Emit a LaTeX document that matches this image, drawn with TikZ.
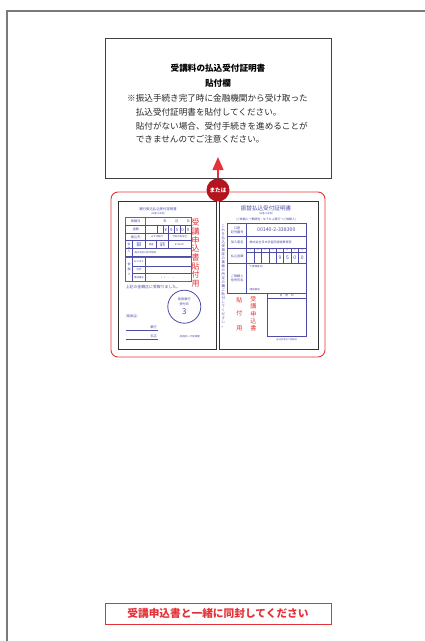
\documentclass[tikz,border=0pt]{standalone}
\usepackage{fontspec}
\setmainfont{Noto Sans CJK JP}
\usetikzlibrary{arrows.meta}

\definecolor{rot}{HTML}{E53238}
\definecolor{dunkelrot}{HTML}{B3141E}
\definecolor{blau}{HTML}{4C4CA6}
\definecolor{grau}{HTML}{7A7A7A}

\tikzset{
  kasten/.style={draw=black!75, line width=0.9pt},
  blatt/.style={draw=black!80, line width=1pt, fill=white},
  linie/.style={blau, line width=0.55pt},
  rotlinie/.style={rot, line width=0.7pt},
  klein/.style={font=\fontsize{3.2}{3.8}\selectfont, text=blau, inner sep=0pt},
  winzig/.style={font=\fontsize{2.4}{2.8}\selectfont, text=blau, inner sep=0pt},
  ziffer/.style={font=\fontsize{5}{5}\selectfont, text=blau, inner sep=0pt},
  hinweis/.style={font=\fontsize{8.6}{10}\selectfont, text=black!85, inner sep=0pt, anchor=west},
  rotsenk/.style={text=rot, align=center, inner sep=0pt},
}

\begin{document}
\begin{tikzpicture}[x=1pt, y=-1pt]
  \useasboundingbox (0,0) rectangle (425,641);

  % Seitenrand
  \draw[grau, line width=1.3pt] (7,641) -- (7,11) -- (425,11);

  % Feld oben
  \node[kasten, minimum width=226pt, minimum height=140pt] (feld) at (218,108) {};
  \node[font=\bfseries\fontsize{8.6}{10}\selectfont, inner sep=0pt] (titel) at (218,68) {受講料の払込受付証明書};
  \node[font=\bfseries\fontsize{8.6}{10}\selectfont, inner sep=0pt] (titel2) at (218,83) {貼付欄};
  \node[hinweis] (zeile1) at (127,98) {※振込手続き完了時に金融機関から受け取った};
  \node[hinweis] (zeile2) at (135.6,112) {払込受付証明書を貼付してください。};
  \node[hinweis] (zeile3) at (135.6,126) {貼付がない場合、受付手続きを進めることが};
  \node[hinweis] (zeile4) at (135.6,139.5) {できませんのでご注意ください。};

  % roter Rahmen mit zwei Belegen
  \draw[rot, line width=0.9pt, rounded corners=7pt] (111,192) rectangle (325,357);
  \node[blatt, minimum width=98pt, minimum height=148pt] (links) at (167,275) {};
  \node[blatt, minimum width=98.5pt, minimum height=148pt] (rechts) at (268.75,275) {};

  % Beleg links
  \node[klein, font=\fontsize{3.4}{4}\selectfont] (ltitel) at (158,209) {銀行振込払込受付証明書};
  \node[winzig] (lsub) at (158,213.5) {(お客さま用)};
  \draw[rotlinie] (125.7,217.3) rectangle (191,225.7);
  \draw[rotlinie] (145.7,217.3) -- (145.7,225.7);
  \draw[linie] (125.7,225.7) rectangle (191,256);
  \foreach \y in {233.3,240.7,248.3}
    \draw[linie] (125.7,\y) -- (191,\y);
  \draw[linie] (145.7,225.7) -- (145.7,248.3);
  \draw[linie] (132.3,240.7) -- (132.3,256);
  \draw[linie] (156.7,240.7) -- (156.7,248.3);
  \draw[linie] (168.3,233.3) -- (168.3,248.3);
  \foreach \x in {157.4,163,168.6,174.2,179.8,185.4}
    \draw[linie] (\x,225.7) -- (\x,233.3);
  \draw[linie] (132.3,257.7) -- (132.3,281.7);
  \draw[linie] (145.7,257.7) -- (145.7,281.7);
  \foreach \y in {266,273.3}
    \draw[linie] (132.3,\y) -- (191,\y);
  \draw[rotlinie] (125.7,257.7) rectangle (191,281.7);

  \node[klein] (idatum) at (135.7,221.5) {依頼日};
  \node[klein] (ijahr) at (165,221.5) {年};
  \node[klein] (imonat) at (176.7,221.5) {月};
  \node[klein] (itag) at (188.3,221.5) {日};
  \node[klein] (ibetrag) at (135.7,229.5) {金額};
  \node[ziffer, font=\fontsize{4.4}{4.4}\selectfont] (iyen) at (165.8,229.5) {¥};
  \foreach \z/\x in {9/171.4,5/177,0/182.6,0/188.2}
    \node[ziffer, font=\fontsize{4.4}{4.4}\selectfont] at (\x,229.5) {\z};
  \node[klein] (iziel) at (135.7,237) {振込先};
  \node[winzig] (ibank) at (157,237) {みずほ銀行};
  \node[winzig] (ifiliale) at (179.7,237) {渋谷中央支店};
  \node[winzig, align=center, font=\fontsize{2.8}{3.6}\selectfont] (iempf) at (129,248.3) {受\\取\\人};
  \node[winzig, align=center] (iart) at (139,244.5) {預金\\種目};
  \node[winzig] (inormal) at (151.2,244.5) {普通};
  \node[winzig, align=center] (ikonto) at (162.5,244.5) {口座\\番号};
  \node[winzig] (inummer) at (179.6,244.5) {8734337};
  \node[winzig, anchor=west] (iname) at (134.5,252.2) {株式会社日本学習院};
  \node[klein, align=center, font=\fontsize{3}{5}\selectfont] (iauftr) at (129,269.7) {依\\頼\\人};
  \node[winzig] (ivorname) at (139,261.8) {おなまえ};
  \node[winzig] (iadresse) at (139,269.7) {住所};
  \node[winzig] (itel) at (139,277.5) {電話番号};
  \node[winzig] (ikl) at (168,277.5) {(\quad)\quad ―\quad ―};
  \node[rotsenk, font=\fontsize{8}{8.66}\selectfont] (lrot) at (195.5,253) {受\\講\\申\\込\\書\\貼\\付\\用};
  \node[klein, anchor=west, font=\fontsize{3.9}{4}\selectfont] (iquittung) at (125.5,286.7) {上記の金額正に受取りました。};
  \node[circle, draw=blau, line width=0.8pt, minimum size=33pt, inner sep=0pt] (stempel) at (184.3,306.7) {};
  \node[klein] (st1) at (184.3,299.3) {取扱銀行};
  \node[klein] (st2) at (184.3,303.8) {受付印};
  \node[klein, font=\fontsize{8}{8}\selectfont] (st3) at (184.3,312) {3};
  \node[klein] (istelle) at (131.7,316.7) {(取扱店)};
  \draw[blau, line width=1pt] (125.7,330.7) -- (158.3,330.7);
  \draw[blau, line width=1pt] (125.7,339.3) -- (158.3,339.3);
  \node[klein] (ibank2) at (153.5,327.5) {銀行};
  \node[klein] (ifil2) at (153.5,336) {支店};
  \node[winzig] (iablage) at (190,336.5) {(取扱店→今後保管)};

  % Beleg rechts
  \node[klein, font=\fontsize{5.6}{6}\selectfont] (rtitel) at (266,208.3) {振替払込受付証明書};
  \node[winzig] (rsub) at (266,213.6) {(お客さま用)};
  \node[winzig, font=\fontsize{2.9}{3}\selectfont] (rweg) at (266,220) {(ご依頼人→郵便局・ゆうちょ銀行→ご依頼人)};
  \node[klein, align=center, font=\fontsize{3.4}{4.02}\selectfont] (rsenk) at (223.3,276.5)
    {こ\\れ\\を\\払\\込\\受\\領\\証\\の\\裏\\面\\の\\所\\定\\の\\欄\\に\\貼\\付\\し\\て\\く\\だ\\さ\\い\\。};
  \draw[linie, line width=0.7pt] (227.7,223.3) rectangle (306,293.3);
  \foreach \y in {236.7,248.3,263.3}
    \draw[linie, line width=0.7pt] (227.7,\y) -- (306,\y);
  \draw[linie, line width=0.7pt] (246.7,223.3) -- (246.7,293.3);
  \draw[linie] (246.7,251.8) -- (306,251.8);
  \foreach \k in {1,...,7}
    \draw[linie] (246.7+7.41*\k,248.3) -- (246.7+7.41*\k,263.3);
  \foreach \t [count=\k] in {千,百,十,万,千,百,十,円}
    \node[winzig, font=\fontsize{2}{2}\selectfont] at (243+7.41*\k,250.05) {\t};
  \foreach \z/\k in {9/5,5/6,0/7,0/8}
    \node[ziffer] at (243+7.41*\k,257.8) {\z};
  \draw[linie, line width=0.7pt] (267.3,293.3) rectangle (306,336.7);
  \draw[linie] (267.3,298) -- (306,298);

  \node[klein, align=center] (rkonto) at (237.2,230) {口座\\記号番号};
  \node[ziffer, font=\fontsize{5.2}{5.2}\selectfont] (rnummer) at (276.3,230) {00140-2-338300};
  \node[klein] (rinhaber) at (237.2,242.5) {加入者名};
  \node[winzig, font=\fontsize{3}{3}\selectfont, anchor=west] (rname) at (249.5,242.5) {株式会社日本学習院通信教育部};
  \node[klein] (rbetrag) at (237.2,255.8) {払込金額};
  \node[klein, align=center] (rauftr) at (237.2,278) {ご依頼人\\住所氏名};
  \node[winzig, anchor=west] (rplz) at (249,266.5) {〒(郵便番号)};
  \node[winzig, anchor=west] (rtel) at (249,290) {(電話番号)};
  \node[winzig, font=\fontsize{2.8}{3}\selectfont] (rstempel) at (286.7,295.7) {日\quad 附\quad 印};
  \node[rotsenk, font=\fontsize{6}{6}\selectfont] (rkleb) at (239.3,300) {貼};
  \node[rotsenk, font=\fontsize{6}{6}\selectfont] (rkleb2) at (239.3,313) {付};
  \node[rotsenk, font=\fontsize{6}{6}\selectfont] (rkleb3) at (239.3,328.5) {用};
  \node[rotsenk, font=\fontsize{6}{7.3}\selectfont] (rrot) at (253.3,314) {受\\講\\申\\込\\書};
  \node[winzig, font=\fontsize{2.2}{2.4}\selectfont] (rfuss) at (286.7,339.5) {(払込料金加入者負担)};

  % "oder"-Kreis und Pfeil
  \node[circle, fill=dunkelrot, minimum size=23pt, inner sep=0pt, text=white,
        font=\bfseries\fontsize{5.6}{6}\selectfont] (oder) at (218,190) {または};
  \coordinate (spitze) at (218,157);
  \draw[rot, line width=1.3pt, -{Triangle[length=13pt, width=11pt]}] (oder) -- (spitze);

  % Hinweis unten
  \node[draw=rot, line width=1pt, minimum width=226pt, minimum height=21pt, inner sep=0pt,
        text=rot, font=\bfseries\fontsize{10.7}{12}\selectfont] (unten) at (218,613.5)
        {受講申込書と一緒に同封してください};
\end{tikzpicture}
\end{document}
